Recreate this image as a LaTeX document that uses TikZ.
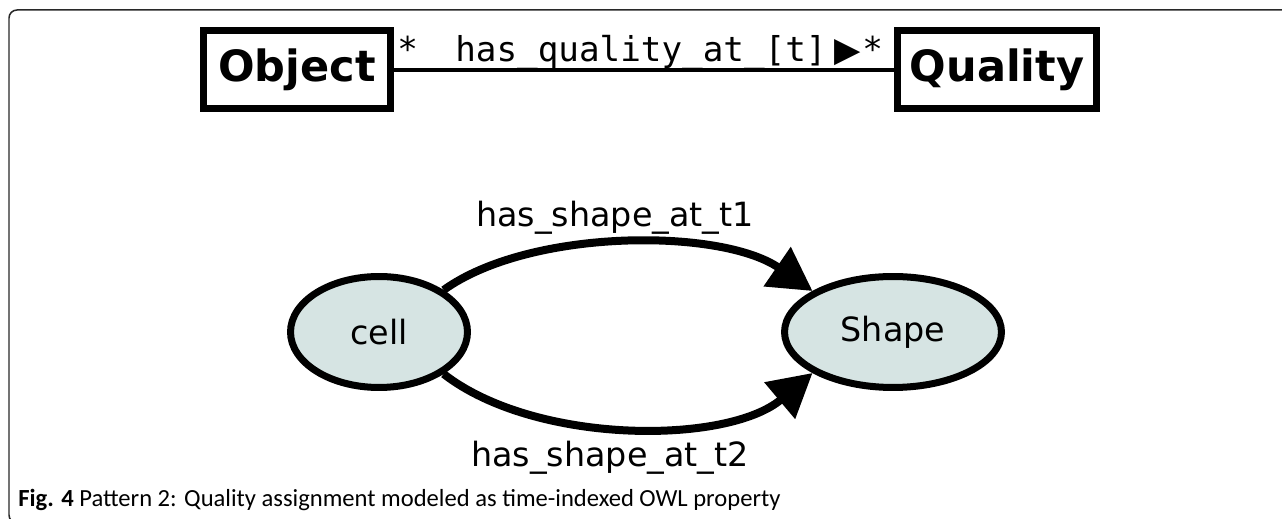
\documentclass[tikz,border=0pt]{standalone}
\usepackage{fontspec}
\setmainfont{DejaVu Sans}
\setmonofont{DejaVu Sans Mono}
\newfontfamily\capfont{Carlito}
\newfontfamily\symfont{DejaVu Sans}
\usepackage{xcolor}
\usetikzlibrary{arrows.meta,shapes.geometric}

\definecolor{entityfill}{RGB}{214,228,227}
\definecolor{framegray}{RGB}{40,40,40}

\tikzset{
  classbox/.style={draw, line width=0.14cm, minimum height=1.56cm, inner sep=0pt,
    font=\bfseries\fontsize{24.5}{28}\selectfont},
  entity/.style={ellipse, draw, line width=0.14cm, fill=entityfill, inner sep=0pt,
    minimum height=2.22cm, font=\fontsize{19}{23}\selectfont},
  rel/.style={line width=0.16cm, -{Triangle[length=0.86cm,width=0.92cm]}},
  mono/.style={inner sep=0pt, anchor=base west, font=\ttfamily\fontsize{19.5}{23}\selectfont},
  rellabel/.style={inner sep=0pt, anchor=base, font=\fontsize{19}{23}\selectfont}
}

\begin{document}
\begin{tikzpicture}[x=0.02cm,y=-0.02cm]
		\useasboundingbox (0,0) rectangle (1282,519);
		\draw[framegray, line width=0.03cm, rounded corners=0.16cm] (60,523) -- (9,523) -- (9,10) -- (1300,10);
		%
		\node[classbox, minimum width=3.76cm] (object) at (297,70) {Object};
		\node[classbox, minimum width=4cm] (quality) at (997,70) {Quality};
		\draw[line width=0.08cm] (object) -- (quality);
		\node[mono] (srcmult) at (397,62) {*};
		\node[mono] (assoc) at (455,62) {has\_quality\_at\_[t]\hspace{0.15cm}{\symfont ▶}};
		\node[mono] (tgtmult) at (862,62) {*};
		%
		\node[entity, minimum width=3.54cm] (cell) at (379,332) {cell};
		\node[entity, minimum width=4.34cm] (shape) at (893,332) {Shape};
		\draw[rel] (cell.33) .. controls (530,228) and (721,228) .. (shape.153);
		\draw[rel] (cell.-33) .. controls (535,445) and (727,445) .. (shape.207);
		\node[rellabel] (t1) at (615,227) {has\_shape\_at\_t1};
		\node[rellabel] (t2) at (610,467) {has\_shape\_at\_t2};
		%
		\node[inner sep=0pt, anchor=base west, font=\capfont\fontsize{14}{17}\selectfont] (caption) at (18,507)
		  {\textbf{Fig. 4} Pattern 2: Quality assignment modeled as time-indexed OWL property};
\end{tikzpicture}
\end{document}
